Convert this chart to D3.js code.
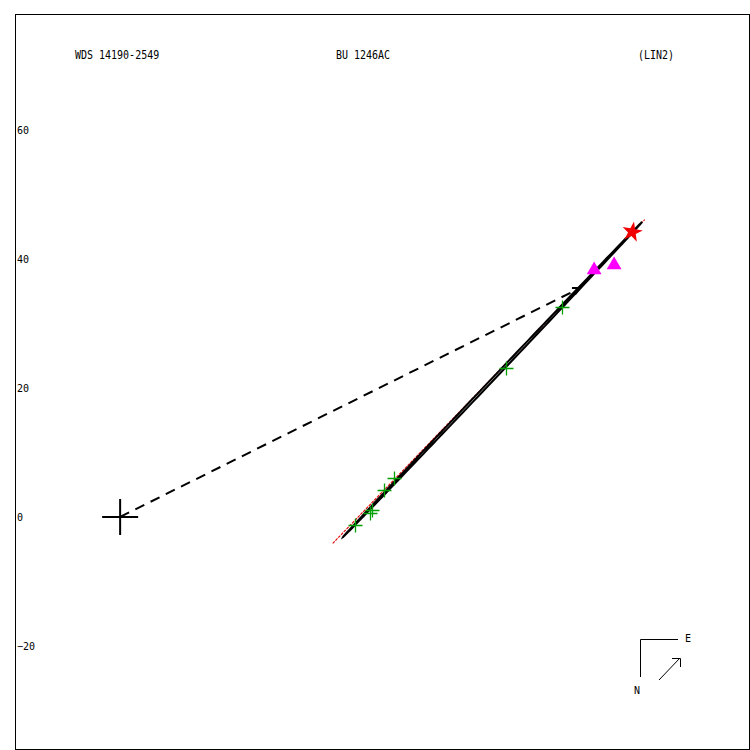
<!DOCTYPE html>
<html><head><meta charset="utf-8">
<script src="https://cdn.jsdelivr.net/npm/d3@7"></script>
<style>body{margin:0;background:#fff}svg{display:block}text{font-family:"DejaVu Sans Mono",monospace;font-size:10px;fill:#000}</style>
</head><body>
<script>
// ---- data ----
const titles = ["WDS 14190-2549", "BU 1246AC", "(LIN2)"];
const yTicks = [60, 40, 20, 0, -20];
const xDomain = [-16.3, 97.5];
const yDomain = [-36.0, 78.0];
// apparent orbit ellipse: center x, center y, semi-major, semi-minor, angle (deg)
const orbitEllipse = [57.75, 21.32, 33.67, 0.18, 46.5];
// earlier orbit (red, dotted) end points
const prevOrbitX = [32.95, 81.33];
const prevOrbitY = [-4.12, 46.12];
// periastron point (end of dashed line)
const periastron = [71.3, 35.5];
// micrometer measures (green +)
const obsX = [36.43, 38.76, 39.07, 40.93, 42.48, 59.84, 68.53];
const obsY = [-1.24, 0.62, 1.09, 4.19, 6.05, 23.10, 32.56];
// other measures (magenta triangles)
const triX = [73.49, 76.59];
const triY = [38.29, 39.07];
// first measure (red star)
const starX = [79.38];
const starY = [44.19];

const W = 750, H = 750;
const frame = {l: 15, t: 14, r: 749, b: 749};
const x = d3.scaleLinear().domain(xDomain).range([frame.l, frame.r]);
const y = d3.scaleLinear().domain(yDomain).range([frame.b, frame.t]);

const svg = d3.select("body").append("svg").attr("width", W).attr("height", H);

svg.append("rect").attr("x", frame.l + 0.5).attr("y", frame.t + 0.5)
  .attr("width", frame.r - frame.l).attr("height", frame.b - frame.t)
  .attr("fill", "none").attr("stroke", "#000").attr("stroke-width", 1);

// titles
const titleX = [75, 336, 638];
titles.forEach((t, i) => {
  svg.append("text").attr("x", titleX[i]).attr("y", 59).attr("transform", `translate(0,59) scale(1,1.15) translate(0,-59)`).text(t);
});

// y axis labels
const yAxis = d3.axisLeft(y).tickValues(yTicks).tickSize(0).tickFormat(d3.format("d"));
const ga = svg.append("g").attr("transform", `translate(${frame.l},0)`).call(yAxis);
ga.select(".domain").remove();
ga.selectAll("text").attr("text-anchor", "start").attr("x", 2).attr("dy", "0.35em").attr("fill", "#000")
  .style("font-family", '"DejaVu Sans Mono",monospace').style("font-size", "10px");

// red earlier orbit
svg.append("line")
  .attr("x1", x(prevOrbitX[0])).attr("y1", y(prevOrbitY[0]))
  .attr("x2", x(prevOrbitX[1])).attr("y2", y(prevOrbitY[1]))
  .attr("stroke", "#e00000").attr("stroke-width", 1.1).attr("stroke-dasharray", "3,1");

// orbit ellipse
const [cx, cy, ea, eb, ang] = orbitEllipse;
const th = ang * Math.PI / 180;
const pts = d3.range(0, 361, 2).map(t => {
  const r = t * Math.PI / 180;
  const u = ea * Math.cos(r), v = eb * Math.sin(r);
  return [x(cx + u * Math.cos(th) - v * Math.sin(th)), y(cy + u * Math.sin(th) + v * Math.cos(th))];
});
svg.append("path").attr("d", d3.line()(pts)).attr("fill", "none").attr("stroke", "#000").attr("stroke-width", 2);

// dashed line to periastron with arrowhead
svg.append("defs").append("marker").attr("id", "arr").attr("viewBox", "0 0 10 10")
  .attr("refX", 9).attr("refY", 5).attr("markerWidth", 9).attr("markerHeight", 9)
  .attr("orient", "auto").attr("markerUnits", "userSpaceOnUse")
  .append("path").attr("d", "M1,1 L9,5 L1,9").attr("fill", "none").attr("stroke", "#000").attr("stroke-width", 2);
svg.append("line").attr("x1", x(0)).attr("y1", y(0)).attr("x2", x(periastron[0])).attr("y2", y(periastron[1]))
  .attr("stroke", "#000").attr("stroke-width", 2).attr("stroke-dasharray", "10,7")
  .attr("marker-end", "url(#arr)");

// primary cross
svg.append("path").attr("d", `M${x(0) - 18},${y(0)}H${x(0) + 18}M${x(0)},${y(0) - 18}V${y(0) + 18}`)
  .attr("stroke", "#000").attr("stroke-width", 2);

// green crosses
obsX.forEach((d, i) => {
  const px = Math.round(x(d)) + 0.5, py = Math.round(y(obsY[i])) + 0.5;
  svg.append("path").attr("d", `M${px - 7},${py}H${px + 7}M${px},${py - 7}V${py + 7}`)
    .attr("stroke", "#00a000").attr("stroke-width", 1.3);
});

// magenta triangles
triX.forEach((d, i) => {
  svg.append("path").attr("d", d3.symbol(d3.symbolTriangle, 95)())
    .attr("transform", `translate(${x(d)},${y(triY[i])})`).attr("fill", "#ff00ff");
});

// red star
starX.forEach((d, i) => {
  svg.append("path").attr("d", d3.symbol(d3.symbolStar, 130)())
    .attr("transform", `translate(${x(d)},${y(starY[i])}) rotate(10)`).attr("fill", "#f00000");
});

// compass
svg.append("path").attr("d", "M640.5,677V639.5H678").attr("fill", "none").attr("stroke", "#000").attr("stroke-width", 1);
svg.append("line").attr("x1", 659).attr("y1", 680).attr("x2", 680).attr("y2", 658).attr("stroke", "#000").attr("stroke-width", 1);
svg.append("path").attr("d", "M672,658.5H680.5V667").attr("fill", "none").attr("stroke", "#000").attr("stroke-width", 1);
svg.append("text").attr("x", 685).attr("y", 642).text("E");
svg.append("text").attr("x", 634).attr("y", 694).text("N");
</script>
</body></html>
